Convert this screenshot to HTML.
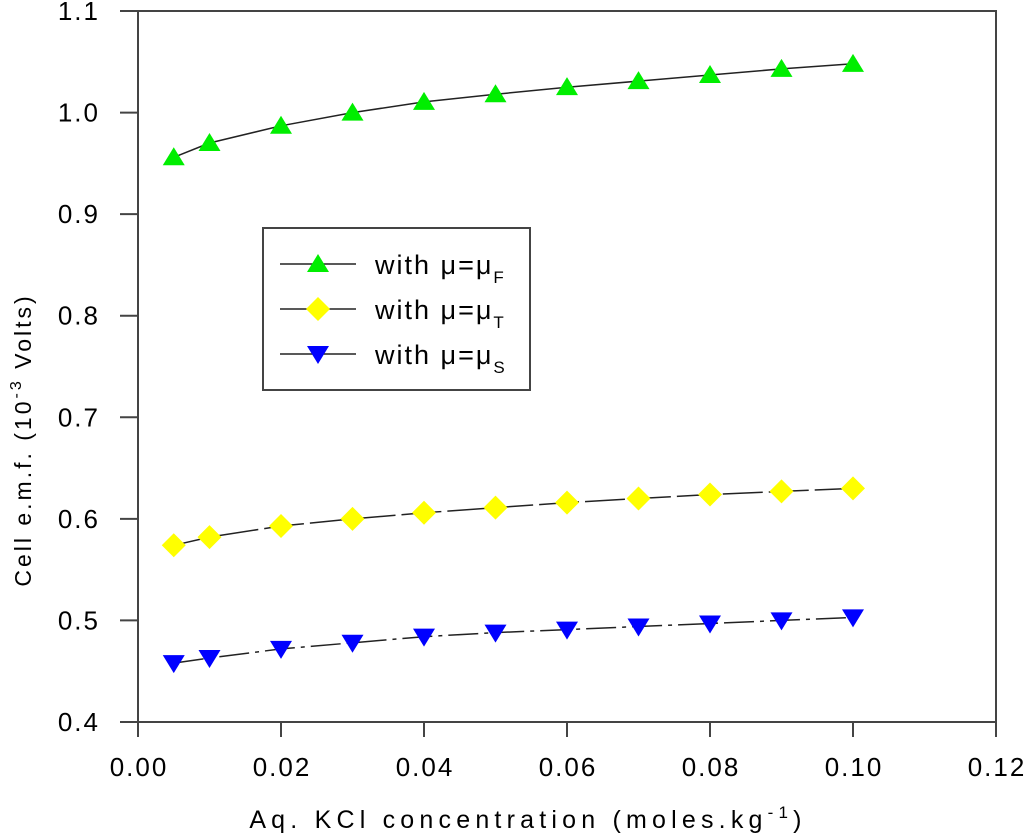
<!DOCTYPE html>
<html><head><meta charset="utf-8"><style>
html,body{margin:0;padding:0;background:#fff;}
svg{display:block;font-family:"Liberation Sans",Arial,sans-serif;}
</style></head><body>
<svg id="chart" width="1024" height="833" viewBox="0 0 1024 833"></svg>
<script>
const xTicks=[0,0.02,0.04,0.06,0.08,0.10,0.12];
const xTickLabels=["0.00","0.02","0.04","0.06","0.08","0.10","0.12"];
const yTicks=[0.4,0.5,0.6,0.7,0.8,0.9,1.0,1.1];
const yTickLabels=["0.4","0.5","0.6","0.7","0.8","0.9","1.0","1.1"];
const conc=[0.005,0.01,0.02,0.03,0.04,0.05,0.06,0.07,0.08,0.09,0.10];
const seriesF=[0.956,0.970,0.987,1.000,1.0105,1.018,1.025,1.031,1.037,1.043,1.048];
const seriesT=[0.574,0.582,0.593,0.600,0.606,0.611,0.616,0.620,0.624,0.627,0.630];
const seriesS=[0.458,0.463,0.472,0.478,0.484,0.488,0.491,0.494,0.497,0.500,0.503];

const NS="http://www.w3.org/2000/svg";
const svg=document.getElementById('chart');
const L=138,R=996,T=11,B=722;
const xs=v=>L+(v-0)/(0.12)*(R-L);
const ys=v=>B-(v-0.4)/(0.7)*(B-T);
function mk(tag,attrs,parent){const e=document.createElementNS(NS,tag);for(const k in attrs)e.setAttribute(k,attrs[k]);(parent||svg).appendChild(e);return e;}

const frame=mk('rect',{x:L,y:T,width:R-L,height:B-T,fill:'none',stroke:'#444','stroke-width':2});



xTicks.forEach((v,i)=>{
  const t=mk('line',{x1:xs(v),x2:xs(v),y1:B,y2:B+15,stroke:'#444','stroke-width':2});
  
  
  const l=mk('text',{x:xs(v)+1,y:776,'text-anchor':'middle','font-size':26,fill:'#000','letter-spacing':'2'});
  l.textContent=xTickLabels[i];
  
  
});
yTicks.forEach((v,i)=>{
  const t=mk('line',{x1:L-18,x2:L,y1:ys(v),y2:ys(v),stroke:'#444','stroke-width':2});
  
  
  const l=mk('text',{x:100,y:ys(v)+9,'text-anchor':'end','font-size':26,fill:'#000','letter-spacing':'2'});
  l.textContent=yTickLabels[i];
  
  
});

const xt=mk('text',{x:528,y:828,'text-anchor':'middle','font-size':25,fill:'#000','letter-spacing':'5.2'});
xt.innerHTML='Aq. KCl concentration (moles.kg<tspan dy="-10" font-size="17">-1</tspan><tspan dy="10">)</tspan>';


const yt=mk('text',{x:0,y:0,'text-anchor':'middle','font-size':23,fill:'#000','letter-spacing':'3',transform:'translate(31,440) rotate(-90)'});
yt.innerHTML='Cell e.m.f. (10<tspan dy="-10" font-size="16">-3</tspan><tspan dy="10"> Volts)</tspan>';



function marker(type,cx,cy,parent){
  let p;
  if(type==='up') p=`${cx-11},${cy+8} ${cx+11},${cy+8} ${cx},${cy-10}`;
  else if(type==='down') p=`${cx-11},${cy-8} ${cx+11},${cy-8} ${cx},${cy+10}`;
  else p=`${cx-12},${cy} ${cx},${cy-12} ${cx+12},${cy} ${cx},${cy+12}`;
  return mk('polygon',{points:p},parent);
}
function series(vals,type,color,dash,name){
  const g=mk('g',{});
  
  
  const d=conc.map((c,i)=>(i?'L':'M')+xs(c).toFixed(1)+','+ys(vals[i]).toFixed(1)).join(' ');
  const pth=mk('path',{d:d,fill:'none',stroke:'#222','stroke-width':1.5,'stroke-dasharray':dash},g);
  
  
  conc.forEach((c,i)=>{
    const m=marker(type,xs(c),ys(vals[i]),g);
    m.setAttribute('fill',color);
    
    
  });
}
series(seriesF,'up','#00ee00','none','series-mu-f');
series(seriesT,'diamond','#ffff00','40 6','series-mu-t');
series(seriesS,'down','#0000ff','30 6 4 6','series-mu-s');

const lg=mk('g',{});


mk('rect',{x:263,y:228,width:267,height:162,fill:'#fff',stroke:'#444','stroke-width':2},lg);
const entries=[['up','#00ee00','F',264],['diamond','#ffff00','T',309],['down','#0000ff','S',354]];
entries.forEach(e=>{
  const eg=mk('g',{},lg);
  
  
  mk('line',{x1:280,x2:356,y1:e[3],y2:e[3],stroke:'#222','stroke-width':1.5},eg);
  marker(e[0],318,e[3],eg).setAttribute('fill',e[1]);
  const t=mk('text',{x:375,y:e[3]+10,'font-size':27,fill:'#000','letter-spacing':'2'},eg);
  t.innerHTML='with &#956;=&#956;<tspan dy="9" font-size="17">'+e[2]+'</tspan>';
});
</script>
</body></html>
